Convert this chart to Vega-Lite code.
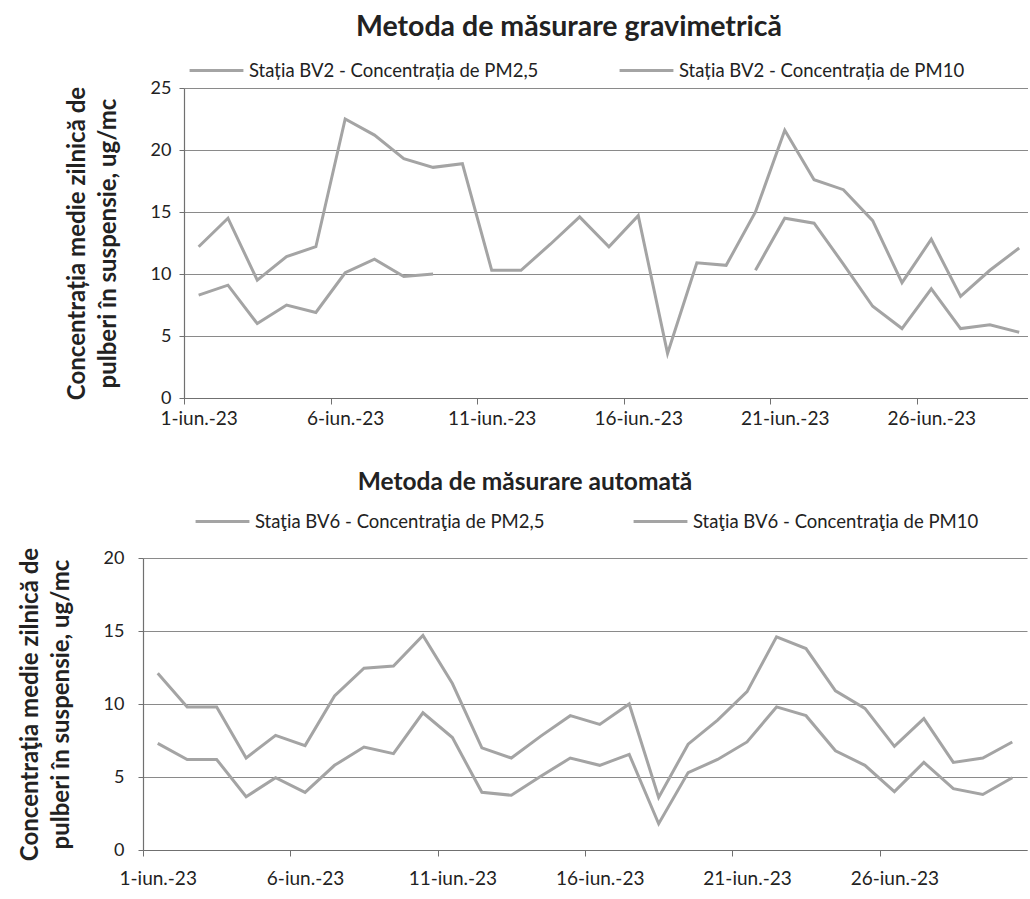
{
  "$schema": "https://vega.github.io/schema/vega-lite/v6.json",
  "background": "white",
  "padding": {"left": 8, "top": 12, "right": 0, "bottom": 0},
  "autosize": {"type": "pad"},
  "config": {
    "font": "Lato",
    "view": {"stroke": null},
    "axis": {
      "domainColor": "#707070",
      "domainWidth": 1.2,
      "tickColor": "#707070",
      "gridColor": "#8a8a8a",
      "gridWidth": 1,
      "labelColor": "#222222",
      "labelFont": "Lato",
      "labelFontSize": 19,
      "titleFont": "Lato",
      "titleFontSize": 24,
      "titleFontWeight": "bold",
      "titleColor": "#222222"
    },
    "legend": {
      "labelFont": "Lato",
      "labelFontSize": 18.5,
      "labelColor": "#222222",
      "labelLimit": 500,
      "symbolType": "stroke",
      "symbolStrokeWidth": 3,
      "symbolSize": 2900,
      "labelOffset": 4,
      "padding": 0,
      "offset": 0
    },
    "title": {"font": "Lato", "fontWeight": "bold", "color": "#222222"},
    "line": {"strokeWidth": 3}
  },
  "datasets": {
    "grav": [
      {"day": 1, "s": "PM2,5", "v": 8.3}, {"day": 2, "s": "PM2,5", "v": 9.1}, {"day": 3, "s": "PM2,5", "v": 6.0},
      {"day": 4, "s": "PM2,5", "v": 7.5}, {"day": 5, "s": "PM2,5", "v": 6.9}, {"day": 6, "s": "PM2,5", "v": 10.1},
      {"day": 7, "s": "PM2,5", "v": 11.2}, {"day": 8, "s": "PM2,5", "v": 9.8}, {"day": 9, "s": "PM2,5", "v": 10.0},
      {"day": 10, "s": "PM2,5", "v": null}, {"day": 11, "s": "PM2,5", "v": null}, {"day": 12, "s": "PM2,5", "v": null},
      {"day": 13, "s": "PM2,5", "v": null}, {"day": 14, "s": "PM2,5", "v": null}, {"day": 15, "s": "PM2,5", "v": null},
      {"day": 16, "s": "PM2,5", "v": null}, {"day": 17, "s": "PM2,5", "v": null}, {"day": 18, "s": "PM2,5", "v": null},
      {"day": 19, "s": "PM2,5", "v": null}, {"day": 20, "s": "PM2,5", "v": 10.3}, {"day": 21, "s": "PM2,5", "v": 14.5},
      {"day": 22, "s": "PM2,5", "v": 14.1}, {"day": 23, "s": "PM2,5", "v": 10.8}, {"day": 24, "s": "PM2,5", "v": 7.4},
      {"day": 25, "s": "PM2,5", "v": 5.6}, {"day": 26, "s": "PM2,5", "v": 8.8}, {"day": 27, "s": "PM2,5", "v": 5.6},
      {"day": 28, "s": "PM2,5", "v": 5.9}, {"day": 29, "s": "PM2,5", "v": 5.3},
      {"day": 1, "s": "PM10", "v": 12.2}, {"day": 2, "s": "PM10", "v": 14.5}, {"day": 3, "s": "PM10", "v": 9.5},
      {"day": 4, "s": "PM10", "v": 11.4}, {"day": 5, "s": "PM10", "v": 12.2}, {"day": 6, "s": "PM10", "v": 22.5},
      {"day": 7, "s": "PM10", "v": 21.2}, {"day": 8, "s": "PM10", "v": 19.3}, {"day": 9, "s": "PM10", "v": 18.6},
      {"day": 10, "s": "PM10", "v": 18.9}, {"day": 11, "s": "PM10", "v": 10.3}, {"day": 12, "s": "PM10", "v": 10.3},
      {"day": 13, "s": "PM10", "v": 12.4}, {"day": 14, "s": "PM10", "v": 14.6}, {"day": 15, "s": "PM10", "v": 12.2},
      {"day": 16, "s": "PM10", "v": 14.7}, {"day": 17, "s": "PM10", "v": 3.6}, {"day": 18, "s": "PM10", "v": 10.9},
      {"day": 19, "s": "PM10", "v": 10.7}, {"day": 20, "s": "PM10", "v": 15.0}, {"day": 21, "s": "PM10", "v": 21.6},
      {"day": 22, "s": "PM10", "v": 17.6}, {"day": 23, "s": "PM10", "v": 16.8}, {"day": 24, "s": "PM10", "v": 14.3},
      {"day": 25, "s": "PM10", "v": 9.3}, {"day": 26, "s": "PM10", "v": 12.8}, {"day": 27, "s": "PM10", "v": 8.2},
      {"day": 28, "s": "PM10", "v": 10.3}, {"day": 29, "s": "PM10", "v": 12.1}
    ],
    "auto": [
      {"day": 1, "s": "PM2,5", "v": 7.3}, {"day": 2, "s": "PM2,5", "v": 6.2}, {"day": 3, "s": "PM2,5", "v": 6.2},
      {"day": 4, "s": "PM2,5", "v": 3.65}, {"day": 5, "s": "PM2,5", "v": 4.95}, {"day": 6, "s": "PM2,5", "v": 3.95},
      {"day": 7, "s": "PM2,5", "v": 5.8}, {"day": 8, "s": "PM2,5", "v": 7.05}, {"day": 9, "s": "PM2,5", "v": 6.6},
      {"day": 10, "s": "PM2,5", "v": 9.4}, {"day": 11, "s": "PM2,5", "v": 7.7}, {"day": 12, "s": "PM2,5", "v": 3.95},
      {"day": 13, "s": "PM2,5", "v": 3.75}, {"day": 14, "s": "PM2,5", "v": 5.05}, {"day": 15, "s": "PM2,5", "v": 6.3},
      {"day": 16, "s": "PM2,5", "v": 5.8}, {"day": 17, "s": "PM2,5", "v": 6.55}, {"day": 18, "s": "PM2,5", "v": 1.8},
      {"day": 19, "s": "PM2,5", "v": 5.3}, {"day": 20, "s": "PM2,5", "v": 6.2}, {"day": 21, "s": "PM2,5", "v": 7.4},
      {"day": 22, "s": "PM2,5", "v": 9.8}, {"day": 23, "s": "PM2,5", "v": 9.2}, {"day": 24, "s": "PM2,5", "v": 6.8},
      {"day": 25, "s": "PM2,5", "v": 5.8}, {"day": 26, "s": "PM2,5", "v": 4.0}, {"day": 27, "s": "PM2,5", "v": 6.0},
      {"day": 28, "s": "PM2,5", "v": 4.2}, {"day": 29, "s": "PM2,5", "v": 3.8}, {"day": 30, "s": "PM2,5", "v": 4.95},
      {"day": 1, "s": "PM10", "v": 12.1}, {"day": 2, "s": "PM10", "v": 9.8}, {"day": 3, "s": "PM10", "v": 9.8},
      {"day": 4, "s": "PM10", "v": 6.3}, {"day": 5, "s": "PM10", "v": 7.85}, {"day": 6, "s": "PM10", "v": 7.15},
      {"day": 7, "s": "PM10", "v": 10.55}, {"day": 8, "s": "PM10", "v": 12.45}, {"day": 9, "s": "PM10", "v": 12.6},
      {"day": 10, "s": "PM10", "v": 14.7}, {"day": 11, "s": "PM10", "v": 11.4}, {"day": 12, "s": "PM10", "v": 7.0},
      {"day": 13, "s": "PM10", "v": 6.3}, {"day": 14, "s": "PM10", "v": 7.8}, {"day": 15, "s": "PM10", "v": 9.2},
      {"day": 16, "s": "PM10", "v": 8.6}, {"day": 17, "s": "PM10", "v": 10.0}, {"day": 18, "s": "PM10", "v": 3.6},
      {"day": 19, "s": "PM10", "v": 7.25}, {"day": 20, "s": "PM10", "v": 8.9}, {"day": 21, "s": "PM10", "v": 10.85},
      {"day": 22, "s": "PM10", "v": 14.6}, {"day": 23, "s": "PM10", "v": 13.8}, {"day": 24, "s": "PM10", "v": 10.9},
      {"day": 25, "s": "PM10", "v": 9.7}, {"day": 26, "s": "PM10", "v": 7.1}, {"day": 27, "s": "PM10", "v": 9.0},
      {"day": 28, "s": "PM10", "v": 6.0}, {"day": 29, "s": "PM10", "v": 6.3}, {"day": 30, "s": "PM10", "v": 7.4}
    ]
  },
  "spacing": 41,
  "resolve": {"scale": {"color": "independent"}, "legend": {"color": "independent"}},
  "vconcat": [
    {
      "spacing": 0,
      "resolve": {"scale": {"color": "independent"}, "legend": {"color": "independent"}},
      "hconcat": [
        {"width": 57, "height": 10, "data": {"values": []}, "mark": "text"},
        {
          "width": 844,
          "height": 310,
          "data": {"name": "grav"},
          "title": {"text": "Metoda de măsurare gravimetrică", "anchor": "middle", "dx": -37, "fontSize": 28.5, "offset": 1},
          "mark": {"type": "line", "clip": true},
          "encoding": {
            "x": {
              "field": "day", "type": "quantitative",
              "scale": {"domain": [0.5, 29.3], "nice": false, "zero": false},
              "axis": {
                "values": [0.5, 5.5, 10.5, 15.5, 20.5, 25.5],
                "labelExpr": "(datum.value + 0.5) + '-iun.-23'",
                "labelOffset": 14.6, "labelFlush": false, "grid": false, "title": null,
                "tickSize": 6, "labelPadding": 5
              }
            },
            "y": {
              "field": "v", "type": "quantitative",
              "scale": {"domain": [0, 25], "nice": false},
              "axis": {
                "values": [0, 5, 10, 15, 20, 25],
                "title": ["Concentrația medie zilnică de", "pulberi în suspensie, ug/mc"],
                "titleLineHeight": 31, "titlePadding": 30,
                "tickSize": 5, "labelPadding": 8, "labelFontSize": 18
              }
            },
            "color": {
              "field": "s", "type": "nominal",
              "scale": {"domain": ["PM2,5", "PM10"], "range": ["#a4a4a4", "#a4a4a4"]},
              "legend": {
                "title": null, "orient": "none", "direction": "horizontal",
                "legendX": 4, "legendY": -46, "columnPadding": 74,
                "labelExpr": "'Stația BV2 - Concentrația de ' + datum.label"
              }
            }
          }
        }
      ]
    },
    {
      "spacing": 0,
      "resolve": {"scale": {"color": "independent"}, "legend": {"color": "independent"}},
      "hconcat": [
        {"width": 10, "height": 10, "data": {"values": []}, "mark": "text"},
        {
          "width": 884,
          "height": 292,
          "data": {"name": "auto"},
          "title": {"text": "Metoda de măsurare automată", "anchor": "middle", "dx": -60, "fontSize": 24.5, "offset": -2},
          "mark": {"type": "line", "clip": true},
          "encoding": {
            "x": {
              "field": "day", "type": "quantitative",
              "scale": {"domain": [0.5, 30.5], "nice": false, "zero": false},
              "axis": {
                "values": [0.5, 5.5, 10.5, 15.5, 20.5, 25.5],
                "labelExpr": "(datum.value + 0.5) + '-iun.-23'",
                "labelOffset": 14.7, "labelFlush": false, "grid": false, "title": null,
                "tickSize": 6, "labelPadding": 13
              }
            },
            "y": {
              "field": "v", "type": "quantitative",
              "scale": {"domain": [0, 20], "nice": false},
              "axis": {
                "values": [0, 5, 10, 15, 20],
                "title": ["Concentraţia medie zilnică de", "pulberi în suspensie, ug/mc"],
                "titleLineHeight": 31, "titlePadding": 30,
                "tickSize": 5, "labelPadding": 14, "labelFontSize": 18
              }
            },
            "color": {
              "field": "s", "type": "nominal",
              "scale": {"domain": ["PM2,5", "PM10"], "range": ["#a4a4a4", "#a4a4a4"]},
              "legend": {
                "title": null, "orient": "none", "direction": "horizontal",
                "legendX": 51, "legendY": -65, "columnPadding": 82,
                "labelExpr": "'Staţia BV6 - Concentraţia de ' + datum.label"
              }
            }
          }
        }
      ]
    }
  ]
}
